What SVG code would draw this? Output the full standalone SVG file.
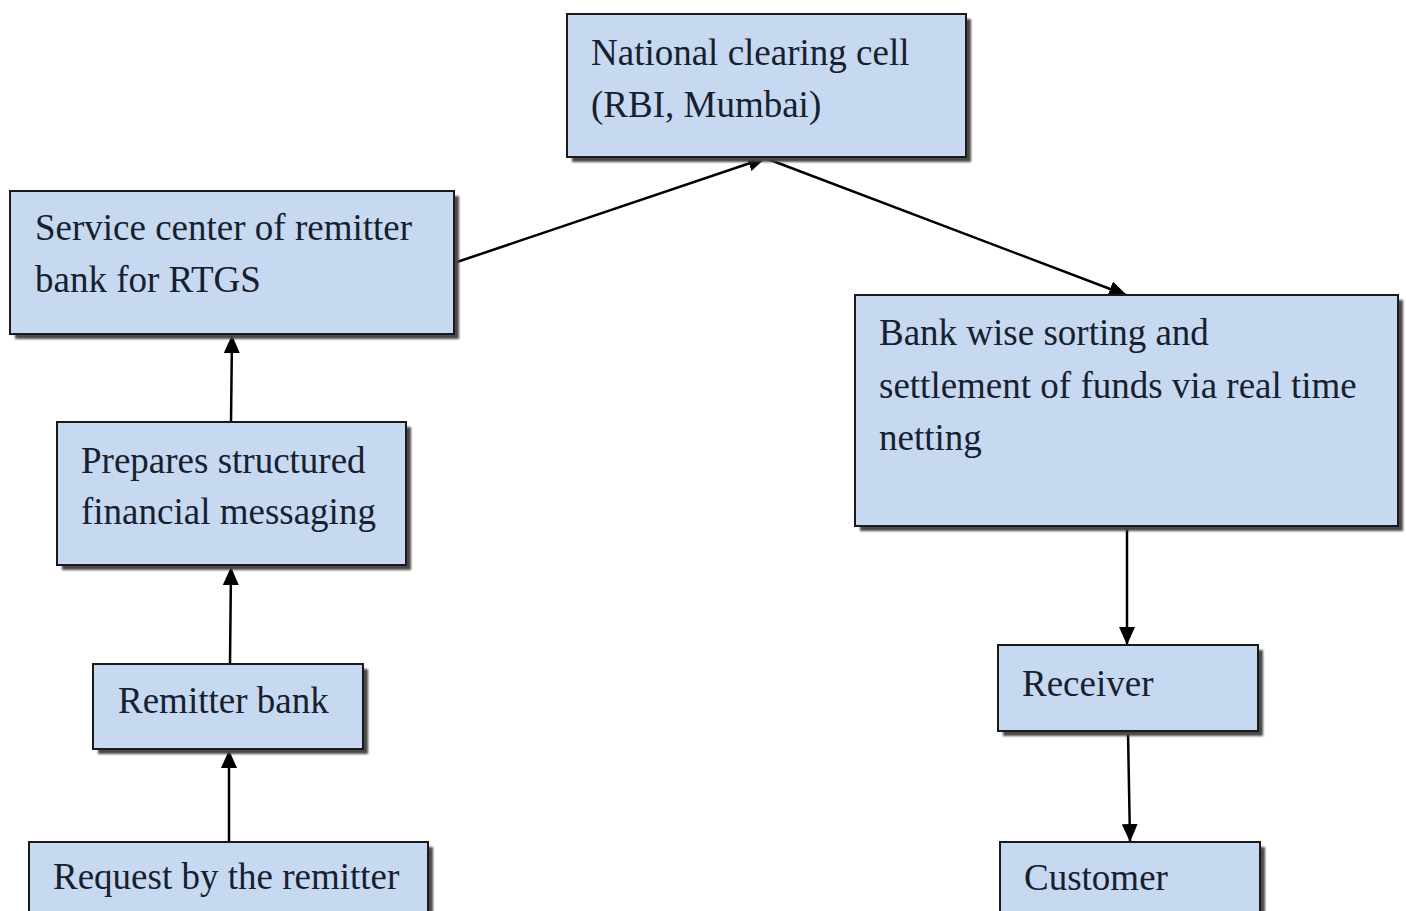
<svg xmlns="http://www.w3.org/2000/svg" width="1406" height="911" viewBox="0 0 1406 911">
<defs>
<marker id="ah" markerUnits="userSpaceOnUse" markerWidth="18" markerHeight="16" refX="17" refY="8" orient="auto">
<path d="M0,0 L18,8 L0,16 Z" fill="#000"/>
</marker>
<filter id="blur" x="-5%" y="-5%" width="110%" height="110%"><feGaussianBlur stdDeviation="1.2"/></filter>
</defs>
<style>
.shadow{fill:#4a4a4a;filter:url(#blur);}
.box{fill:#c6d9f1;stroke:#1a1a1a;stroke-width:2;}
.t{font-family:"Liberation Serif","Times New Roman",serif;font-size:37px;fill:#17202e;}
.c{fill:none;stroke:#000;stroke-width:2.5;marker-end:url(#ah);}
</style>
<rect width="1406" height="911" fill="#fff"/>
<g id="connectors">
<line class="c" x1="229" y1="842" x2="229" y2="751"/>
<line class="c" x1="230" y1="663" x2="231" y2="568"/>
<line class="c" x1="231" y1="422" x2="232" y2="336"/>
<line class="c" x1="454" y1="263" x2="765" y2="158"/>
<line class="c" x1="765" y1="158" x2="1126" y2="295"/>
<line class="c" x1="1127" y1="526" x2="1127" y2="644"/>
<line class="c" x1="1128" y1="732" x2="1130" y2="841"/>
</g>
<g id="n-nc">
<rect class="shadow" x="572" y="19" width="399" height="143"/>
<rect class="box" x="567" y="14" width="399" height="143"/>
<text class="t" x="591" y="65">National clearing cell</text>
<text class="t" x="591" y="117">(RBI, Mumbai)</text>
</g>
<g id="n-sc">
<rect class="shadow" x="15" y="196" width="444" height="143"/>
<rect class="box" x="10" y="191" width="444" height="143"/>
<text class="t" x="35" y="240">Service center of remitter</text>
<text class="t" x="35" y="292">bank for RTGS</text>
</g>
<g id="n-bw">
<rect class="shadow" x="860" y="300" width="543" height="231"/>
<rect class="box" x="855" y="295" width="543" height="231"/>
<text class="t" x="879" y="345">Bank wise sorting and</text>
<text class="t" x="879" y="398">settlement of funds via real time</text>
<text class="t" x="879" y="450">netting</text>
</g>
<g id="n-pr">
<rect class="shadow" x="62" y="427" width="349" height="143"/>
<rect class="box" x="57" y="422" width="349" height="143"/>
<text class="t" x="81" y="473">Prepares structured</text>
<text class="t" x="81" y="524">financial messaging</text>
</g>
<g id="n-rb">
<rect class="shadow" x="98" y="669" width="270" height="85"/>
<rect class="box" x="93" y="664" width="270" height="85"/>
<text class="t" x="118" y="713">Remitter bank</text>
</g>
<g id="n-rq">
<rect class="shadow" x="34" y="847" width="399" height="80"/>
<rect class="box" x="29" y="842" width="399" height="80"/>
<text class="t" x="53" y="889">Request by the remitter</text>
</g>
<g id="n-rc">
<rect class="shadow" x="1003" y="650" width="260" height="86"/>
<rect class="box" x="998" y="645" width="260" height="86"/>
<text class="t" x="1022" y="696">Receiver</text>
</g>
<g id="n-cu">
<rect class="shadow" x="1005" y="847" width="260" height="80"/>
<rect class="box" x="1000" y="842" width="260" height="80"/>
<text class="t" x="1024" y="890">Customer</text>
</g>
</svg>
